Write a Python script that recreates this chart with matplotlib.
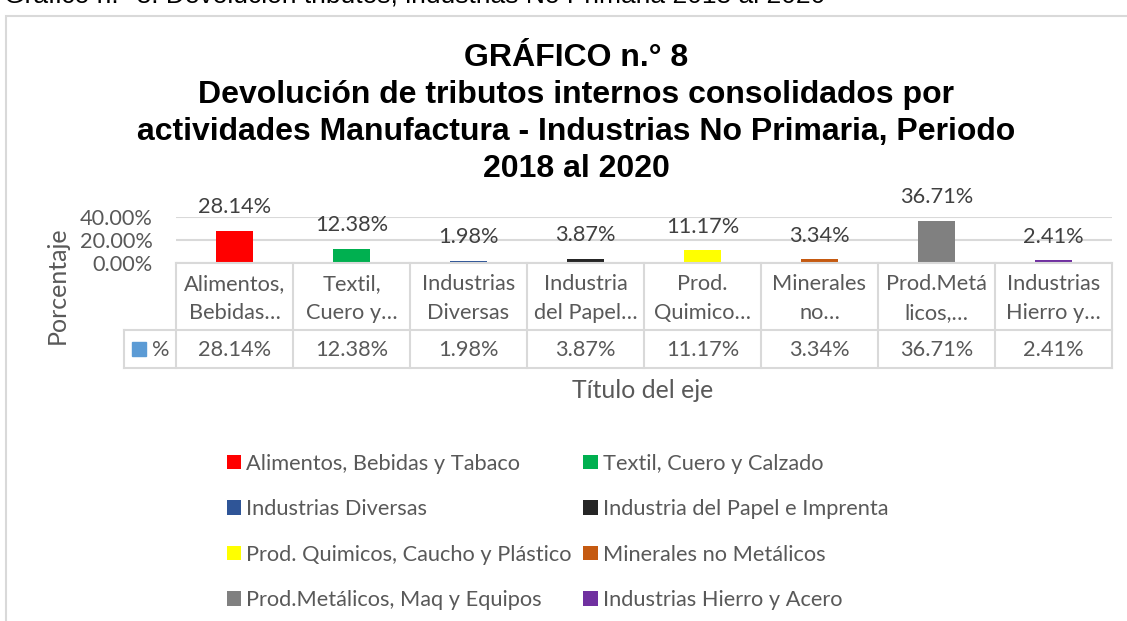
import matplotlib
matplotlib.use("Agg")
import matplotlib.pyplot as plt
from matplotlib.patches import Patch, Rectangle
import matplotlib.transforms as mtransforms

# data
categorias = ["Alimentos, Bebidas y Tabaco", "Textil, Cuero y Calzado",
              "Industrias Diversas", "Industria del Papel e Imprenta",
              "Prod. Quimicos, Caucho y Plástico", "Minerales no Metálicos",
              "Prod.Metálicos, Maq y Equipos", "Industrias Hierro y Acero"]
etiquetas_tabla = ["Alimentos,\nBebidas…", "Textil,\nCuero y…", "Industrias\nDiversas",
                   "Industria\ndel Papel…", "Prod.\nQuimico…", "Minerales\nno…",
                   "Prod.Metá\nlicos,…", "Industrias\nHierro y…"]
porcentajes = [28.14, 12.38, 1.98, 3.87, 11.17, 3.34, 36.71, 2.41]
colores = ["#FF0000", "#00B050", "#2F5597", "#262626",
           "#FFFF00", "#C55A11", "#808080", "#7030A0"]
yticks = [0, 20, 40]

W, H = 1127, 621
fig = plt.figure(figsize=(W / 100, H / 100), dpi=100)
plt.rcParams['font.family'] = ['Lato', 'DejaVu Sans']
gris = "#595959"
linea = "#d9d9d9"
fs = 15.7

def fx(x):
    return x / W

def fy(y):
    return 1 - y / H

# caption cut off at the top of the page
fig.text(fx(4), fy(2), "Gráfico n.° 8. Devolución tributos, industrias No Primaria 2018 al 2020",
         fontsize=19, family="Liberation Sans", color="black", va="baseline", ha="left")

# chart frame
fig.patches.append(Rectangle((fx(6), fy(700)), 2, fy(16) - fy(700), transform=fig.transFigure,
                             fill=False, edgecolor=linea, linewidth=1.5))

# title
titulo = ["GRÁFICO n.° 8", "Devolución de tributos internos consolidados por",
          "actividades Manufactura - Industrias No Primaria, Periodo", "2018 al 2020"]
for i, t in enumerate(titulo):
    fig.text(fx(576), fy(58 + i * 37), t, family="Liberation Sans", fontweight="bold",
             fontsize=23, ha="center", va="center", color="black")

x_izq, x_der, y_top, y_cero = 176, 1112, 217, 263
ax = fig.add_axes([fx(x_izq), fy(y_cero), fx(x_der - x_izq), (y_cero - y_top) / H])
pos = list(range(len(categorias)))
ax.bar(pos, porcentajes, width=0.32, color=colores, zorder=3)
ax.set_xlim(-0.5, len(categorias) - 0.5)
ax.set_ylim(0, 40)
ax.set_yticks(yticks)
ax.set_yticklabels([f"{v:.2f}%" for v in yticks], fontsize=fs, color=gris)
ax.tick_params(axis="y", length=0, pad=17)
ax.set_xticks([])
ax.grid(axis="y", color=linea, linewidth=1.5, zorder=0)
for s in ax.spines.values():
    s.set_visible(False)
for p, v in zip(pos, porcentajes):
    ax.annotate(f"{v:.2f}%", (p, v), xytext=(0, 17), textcoords="offset points",
                ha="center", va="center", fontsize=fs, color="#404040")

# data table below the axis
tr = mtransforms.blended_transform_factory(ax.transData, fig.transFigure)
y_fila1, y_fila2 = 330, 368
x_leyenda = 124
fig.add_artist(plt.Line2D([fx(x_izq), fx(x_der)], [fy(y_cero), fy(y_cero)], color=linea, lw=1.5))
for yy in (y_fila1, y_fila2):
    fig.add_artist(plt.Line2D([fx(x_leyenda), fx(x_der)], [fy(yy), fy(yy)], color=linea, lw=1.5))
fig.add_artist(plt.Line2D([fx(x_leyenda), fx(x_leyenda)], [fy(y_fila1), fy(y_fila2)], color=linea, lw=1.5))
for k in range(len(categorias) + 1):
    fig.add_artist(plt.Line2D([k - 0.5, k - 0.5], [fy(y_cero), fy(y_fila2)], color=linea,
                              lw=1.5, transform=tr))
for p, lab, v in zip(pos, etiquetas_tabla, porcentajes):
    l1, l2 = lab.split("\n")
    fig.text(p, fy(284), l1, transform=tr, ha="center", va="center", fontsize=fs, color=gris)
    fig.text(p, fy(313), l2, transform=tr, ha="center", va="center", fontsize=fs, color=gris)
    fig.text(p, fy(350), f"{v:.2f}%", transform=tr, ha="center", va="center", fontsize=fs, color=gris)
fig.patches.append(Rectangle((fx(132), fy(356)), fx(14), fy(342) - fy(356), transform=fig.transFigure,
                             color="#5B9BD5"))
fig.text(fx(152), fy(350), "%", ha="left", va="center", fontsize=fs, color=gris)

# axis titles
fig.text(fx(57), fy(285), "Porcentaje", rotation=90, ha="center", va="center", fontsize=18, color=gris)
fig.text(fx(643), fy(391), "Título del eje", ha="center", va="center", fontsize=17.8, color=gris)

# legend
orden = [0, 2, 4, 6, 1, 3, 5, 7]
handles = [Patch(facecolor=colores[i], edgecolor="none", label=categorias[i]) for i in orden]
fig.legend(handles=handles, loc="upper left", bbox_to_anchor=(fx(218), fy(445)), ncol=2,
           frameon=False, fontsize=fs, labelcolor=gris, handlelength=0.65, handleheight=0.65,
           handletextpad=0.25, columnspacing=0.53, labelspacing=1.17, borderaxespad=0)

fig.savefig("out.png", dpi=100)
